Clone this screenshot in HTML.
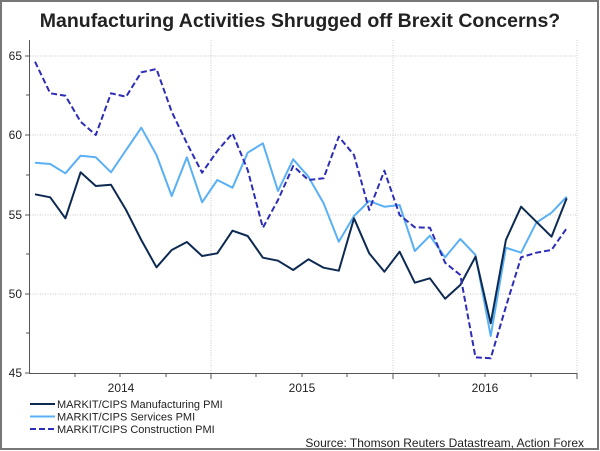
<!DOCTYPE html>
<html><head><style>
html,body{margin:0;padding:0;background:#fff}
svg{display:block}
text{font-family:"Liberation Sans",Arial,sans-serif;fill:#222}
</style></head><body>
<svg width="600" height="451" viewBox="0 0 600 451" xmlns="http://www.w3.org/2000/svg">
<rect x="1" y="1" width="597" height="448" fill="#fff" stroke="#777" stroke-width="2"/>
<text x="300" y="27" font-size="19.5" font-weight="bold" text-anchor="middle">Manufacturing Activities Shrugged off Brexit Concerns?</text>
<g stroke="#c8c8c8" stroke-width="1" stroke-dasharray="1,1.5">
<line x1="30" y1="56" x2="577" y2="56"/><line x1="30" y1="135" x2="577" y2="135"/>
<line x1="30" y1="215" x2="577" y2="215"/><line x1="30" y1="294" x2="577" y2="294"/>
<line x1="211" y1="40" x2="211" y2="373"/><line x1="393" y1="40" x2="393" y2="373"/><line x1="577" y1="40" x2="577" y2="373"/>
</g>
<g stroke="#555" stroke-width="1">
<line x1="29.5" y1="40" x2="29.5" y2="373"/>
<line x1="29" y1="373.5" x2="577" y2="373.5"/>
<line x1="25" y1="56" x2="30" y2="56"/><line x1="25" y1="135" x2="30" y2="135"/><line x1="25" y1="215" x2="30" y2="215"/><line x1="25" y1="294" x2="30" y2="294"/><line x1="25" y1="373" x2="30" y2="373"/>
<line x1="26" y1="95" x2="30" y2="95"/><line x1="26" y1="175" x2="30" y2="175"/><line x1="26" y1="254" x2="30" y2="254"/><line x1="26" y1="333" x2="30" y2="333"/>
<line x1="211" y1="373" x2="211" y2="379"/><line x1="393" y1="373" x2="393" y2="379"/><line x1="577" y1="373" x2="577" y2="379"/>
<line x1="75" y1="373" x2="75" y2="377"/><line x1="120" y1="373" x2="120" y2="377"/><line x1="166" y1="373" x2="166" y2="377"/>
<line x1="256" y1="373" x2="256" y2="377"/><line x1="302" y1="373" x2="302" y2="377"/><line x1="347" y1="373" x2="347" y2="377"/>
<line x1="439" y1="373" x2="439" y2="377"/><line x1="485" y1="373" x2="485" y2="377"/><line x1="531" y1="373" x2="531" y2="377"/>
</g>
<g font-size="12" text-anchor="end">
<text x="22" y="60">65</text><text x="22" y="139">60</text><text x="22" y="219">55</text><text x="22" y="298">50</text><text x="22" y="377">45</text>
</g>
<g font-size="12" text-anchor="middle">
<text x="121" y="392">2014</text><text x="302" y="392">2015</text><text x="485" y="392">2016</text>
</g>
<g fill="none" stroke-width="2" stroke-linejoin="round">
<polyline stroke="#5ab0f5" points="35,162.7 50.2,164 65.4,173.3 80.6,155.7 95.8,157.3 111,172.3 126.1,150 141.3,127.7 156.5,155 171.7,196 186.9,157.3 202.1,202.3 217.3,180 232.5,187.7 247.7,152.7 262.9,143.3 278,191 293.2,159.3 308.4,176.7 323.6,203.3 338.8,241.7 354,216 369.2,201 384.4,206.7 399.6,205 414.8,251 429.9,235.7 445.1,257.3 460.3,239 475.5,255 490.7,336 505.9,247.7 521.1,252.7 536.3,222.7 551.5,212.7 566.7,196.7"/>
<polyline stroke="#0d2a52" points="35,194.3 50.2,197.3 65.4,218.3 80.6,172.3 95.8,186 111,184.7 126.1,210 141.3,240 156.5,267.3 171.7,250 186.9,242 202.1,256 217.3,253.3 232.5,230.7 247.7,236 262.9,257.7 278,260.7 293.2,270 308.4,259.3 323.6,267.7 338.8,270.7 354,218.3 369.2,253.3 384.4,271.7 399.6,251.7 414.8,282.7 429.9,278.3 445.1,298.7 460.3,285 475.5,256.7 490.7,323.3 505.9,240 521.1,206.7 536.3,221.7 551.5,236.7 566.7,198.3"/>
<polyline stroke="#2d2db8" stroke-dasharray="6,3" points="35,61.7 50.2,93.3 65.4,95.7 80.6,121.7 95.8,135 111,93.3 126.1,96.7 141.3,72.3 156.5,69 171.7,111.7 186.9,143.3 202.1,172.7 217.3,151 232.5,133.3 247.7,170 262.9,227.7 278,200 293.2,166 308.4,180 323.6,178.3 338.8,136.7 354,155 369.2,210 384.4,170.7 399.6,215 414.8,227.3 429.9,227.7 445.1,262.7 460.3,275 475.5,357.3 490.7,358.3 505.9,306.7 521.1,257.3 536.3,252.7 551.5,250 566.7,228.3"/>
</g>
<g stroke-width="2">
<line x1="30" y1="404" x2="55" y2="404" stroke="#0d2a52"/>
<line x1="30" y1="416.5" x2="55" y2="416.5" stroke="#5ab0f5"/>
<line x1="30" y1="429" x2="55" y2="429" stroke="#2d2db8" stroke-dasharray="6,3"/>
</g>
<g font-size="11">
<text x="57" y="408">MARKIT/CIPS Manufacturing PMI</text>
<text x="57" y="420.5">MARKIT/CIPS Services PMI</text>
<text x="57" y="433">MARKIT/CIPS Construction PMI</text>
</g>
<text x="584" y="447" font-size="12" text-anchor="end">Source: Thomson Reuters Datastream, Action Forex</text>
</svg>
</body></html>
